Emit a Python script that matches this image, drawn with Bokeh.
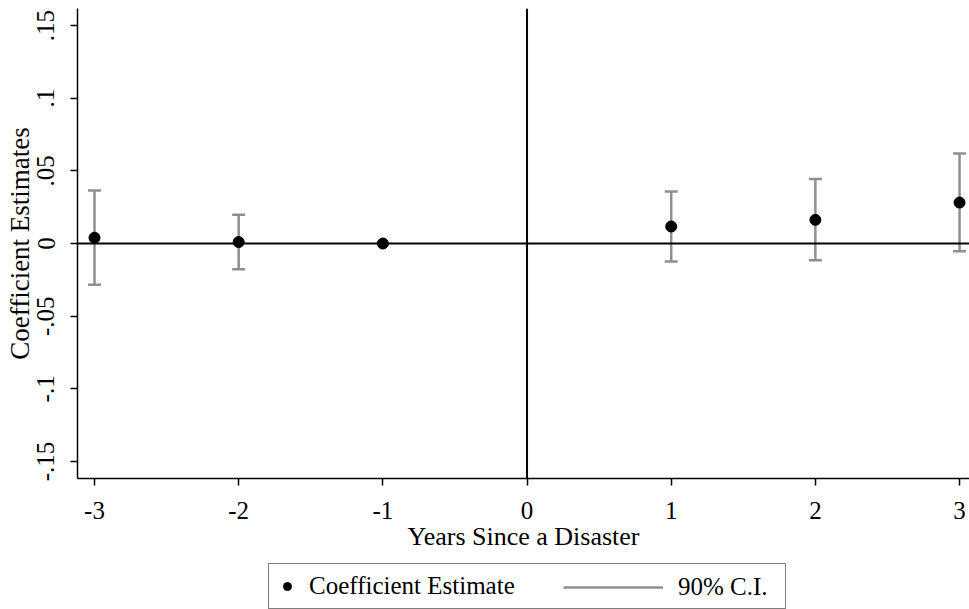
from bokeh.plotting import figure
from bokeh.layouts import column
from bokeh.models import (ColumnDataSource, Span, Whisker, TeeHead, Legend, LegendItem,
                          FixedTicker, Range1d)
from bokeh.embed import file_html
from bokeh.resources import INLINE

# ---- data ----
years = [-3, -2, -1, 1, 2, 3]
coef = [0.0040, 0.0010, 0.0, 0.0117, 0.0163, 0.0282]
ci_years = [-3, -2, 1, 2, 3]
ci_lo = [-0.0284, -0.0177, -0.0124, -0.0115, -0.0053]
ci_hi = [0.0365, 0.0197, 0.0358, 0.0443, 0.0619]
x_ticks = [-3, -2, -1, 0, 1, 2, 3]
x_tick_labels = ["-3", "-2", "-1", "0", "1", "2", "3"]
y_ticks = [-0.15, -0.1, -0.05, 0, 0.05, 0.1, 0.15]
y_tick_labels = ["-.15", "-.1", "-.05", "0", ".05", ".1", ".15"]

FONT = "Liberation Serif"
FS = "25px"
GRAY = "#8f8f8f"

p = figure(width=969, height=560, output_backend="svg", toolbar_location=None,
           x_range=Range1d(-3.118, 3.069), y_range=Range1d(-0.1617, 0.1617),
           min_border_left=77, min_border_right=0, min_border_top=8, min_border_bottom=82)
p.outline_line_color = None
p.xgrid.visible = False
p.ygrid.visible = False
p.background_fill_color = "white"
p.border_fill_color = "white"

# reference lines
p.add_layout(Span(location=0, dimension="width", line_color="black", line_width=2))
p.add_layout(Span(location=0, dimension="height", line_color="black", line_width=2))

ci_src = ColumnDataSource(dict(x=ci_years, lo=ci_lo, hi=ci_hi))
p.segment(x0="x", y0="lo", x1="x", y1="hi", source=ci_src,
          line_color=GRAY, line_width=2.5)
wh = Whisker(base="x", lower="lo", upper="hi", source=ci_src, dimension="height",
             line_alpha=0,
             upper_head=TeeHead(size=13, line_color=GRAY, line_width=2.5),
             lower_head=TeeHead(size=13, line_color=GRAY, line_width=2.5))
p.add_layout(wh)

p.scatter(x=years, y=coef, size=11, fill_color="black", line_color="black")

# axes
for ax in (p.xaxis[0], p.yaxis[0]):
    ax.axis_line_color = "black"
    ax.axis_line_width = 1.5
    ax.major_tick_line_color = "black"
    ax.major_tick_line_width = 1.5
    ax.major_tick_out = 7
    ax.major_tick_in = 0
    ax.minor_tick_line_color = None
    ax.major_label_text_font = FONT
    ax.major_label_text_font_size = FS
    ax.major_label_text_color = "black"
    ax.axis_label_text_font = FONT
    ax.axis_label_text_font_style = "normal"
    ax.axis_label_text_color = "black"

p.xaxis.ticker = FixedTicker(ticks=x_ticks)
p.xaxis.major_label_overrides = dict(zip(x_ticks, x_tick_labels))
p.yaxis.ticker = FixedTicker(ticks=y_ticks)
p.yaxis.major_label_overrides = {t: l for t, l in zip(y_ticks, y_tick_labels)}
p.yaxis.major_label_orientation = "vertical"
p.xaxis.axis_label = "Years Since a Disaster"
p.yaxis.axis_label = "Coefficient Estimates"
p.xaxis.axis_label_text_font_size = "26px"
p.yaxis.axis_label_text_font_size = "27px"
p.xaxis.major_label_standoff = 16
p.xaxis.axis_label_standoff = 0
p.yaxis.major_label_standoff = 16
p.yaxis.axis_label_standoff = 0

# ---- legend strip (separate figure so the box is not clipped) ----
lf = figure(width=969, height=49, output_backend="svg", toolbar_location=None,
            x_range=Range1d(100, 101), y_range=Range1d(100, 101),
            x_axis_type=None, y_axis_type=None,
            min_border_left=0, min_border_right=0, min_border_top=0, min_border_bottom=0)
lf.outline_line_color = None
lf.background_fill_color = "white"
lf.border_fill_color = "white"
leg_pts = lf.scatter(x=years, y=coef, size=11, fill_color="black", line_color="black")
leg_seg = lf.segment(x0=ci_years, y0=ci_lo, x1=ci_years, y1=ci_hi,
                     line_color=GRAY, line_width=2.5)

leg_a = Legend(items=[LegendItem(label="Coefficient Estimate", renderers=[leg_pts])],
               location=(191, 0), orientation="horizontal",
               glyph_width=20, glyph_height=20, label_standoff=12, label_width=468,
               padding=8, margin=0, spacing=0,
               border_line_color="black", border_line_width=1.2,
               label_text_font=FONT, label_text_font_size=FS, label_text_color="black",
               background_fill_color="white", background_fill_alpha=1)
leg_b = Legend(items=[LegendItem(label="90% C.I.", renderers=[leg_seg])],
               location=(478, 0), orientation="horizontal",
               glyph_width=100, glyph_height=20, label_standoff=15,
               padding=8, margin=0, spacing=0,
               border_line_alpha=0, background_fill_alpha=0,
               label_text_font=FONT, label_text_font_size=FS, label_text_color="black")
lf.add_layout(leg_a, "center")
lf.add_layout(leg_b, "center")

layout = column(p, lf, spacing=0)
open("out.html", "w").write(file_html(layout, INLINE))
